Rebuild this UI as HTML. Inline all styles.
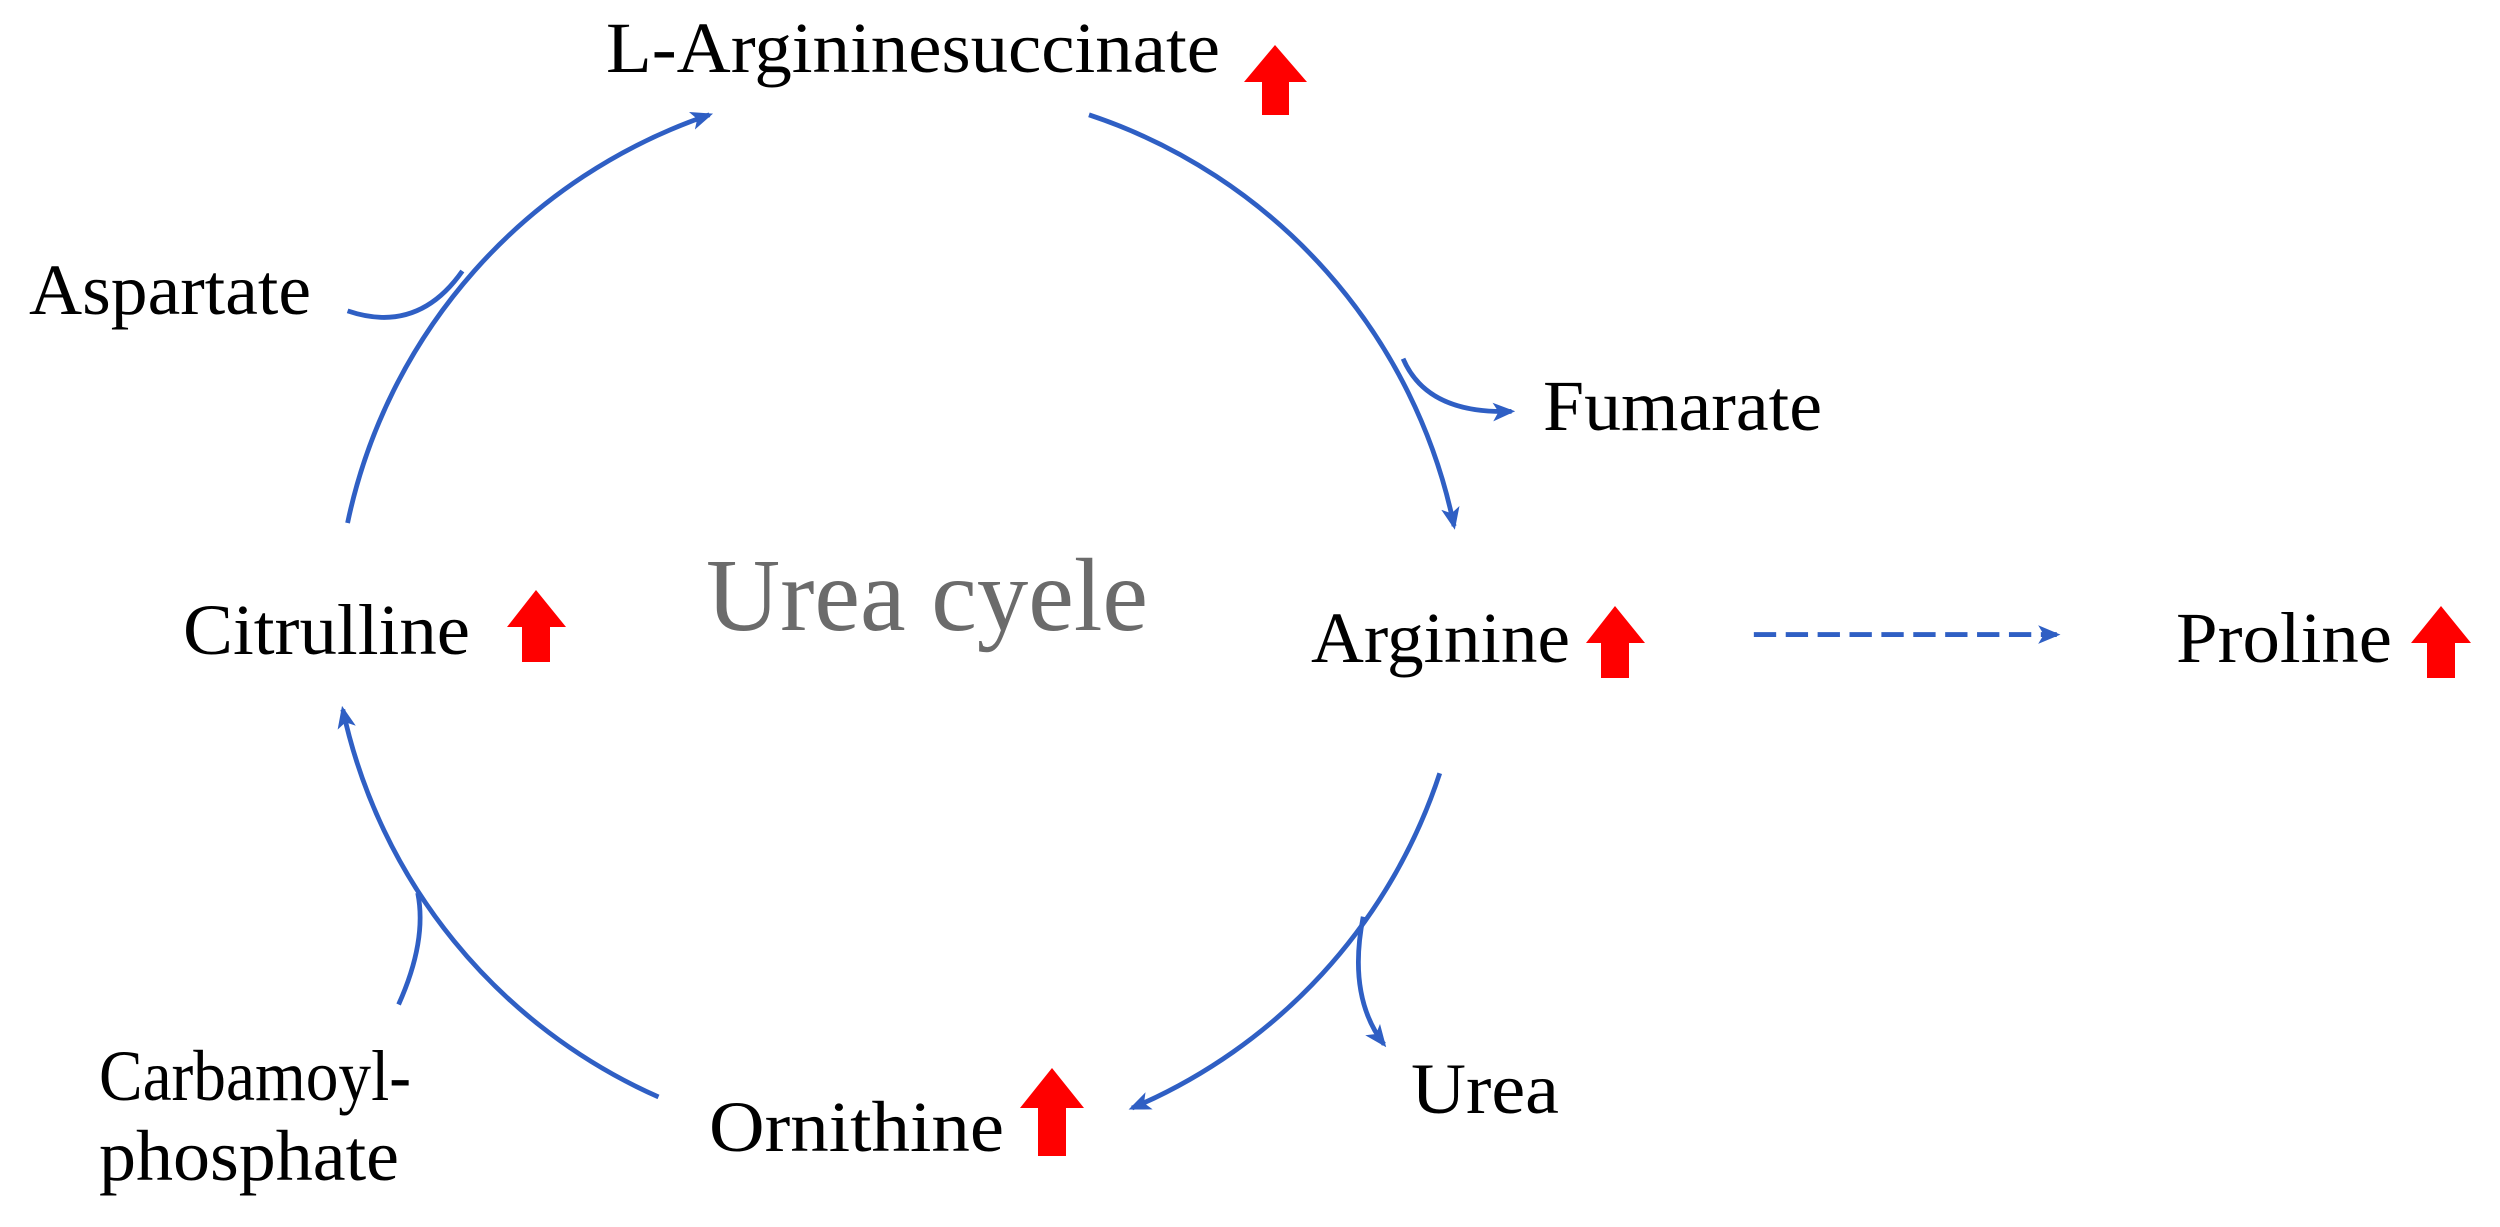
<!DOCTYPE html>
<html><head><meta charset="utf-8"><style>
html,body{margin:0;padding:0;background:#fff;}
svg{display:block;}
text{font-family:"Liberation Serif",serif;fill:#000;}
</style></head><body>
<svg width="2500" height="1227" viewBox="0 0 2500 1227" xmlns="http://www.w3.org/2000/svg">
<defs>
<marker id="a" viewBox="0 0 12 10" refX="10" refY="5" markerWidth="14" markerHeight="12" markerUnits="userSpaceOnUse" orient="auto">
<path d="M0,0 L12,5 L0,10 L3,5 Z" fill="#2f5fc4"/>
</marker>
</defs>
<g transform="scale(1.5944)" fill="none" stroke="#2f5fc4" stroke-width="3">
<path d="M218,328 A345,345 0 0 1 445,72" marker-end="url(#a)"/>
<path d="M218,195 Q262,210 290,170"/>
<path d="M683,72 A345,345 0 0 1 912,330" marker-end="url(#a)"/>
<path d="M880,225 Q895,260 948,258" marker-end="url(#a)"/>
<path d="M903,485 A345,345 0 0 1 710,695" marker-end="url(#a)"/>
<path d="M855,575 Q845,625 868,655" marker-end="url(#a)"/>
<path d="M413,688 A345,345 0 0 1 215,445" marker-end="url(#a)"/>
<path d="M250,630 Q268,590 262,560"/>
<path d="M1100,398 L1290,398" stroke-dasharray="14,6" marker-end="url(#a)"/>
</g>
<g fill="#ff0000">
<polygon points="1275,45 1307,82 1289,82 1289,115 1262,115 1262,82 1244,82"/>
<polygon points="536,590 566,627 550,627 550,662 522,662 522,627 507,627"/>
<polygon points="1615,606 1645,643 1629,643 1629,678 1601,678 1601,643 1586,643"/>
<polygon points="2441,606 2471,643 2455,643 2455,678 2427,678 2427,643 2411,643"/>
<polygon points="1052,1068 1084,1108 1066,1108 1066,1156 1038,1156 1038,1108 1020,1108"/>
</g>
<g font-size="72">
<text x="606" y="72" textLength="614" lengthAdjust="spacingAndGlyphs">L-Argininesuccinate</text>
<text x="29" y="314" textLength="282" lengthAdjust="spacingAndGlyphs">Aspartate</text>
<text x="1543" y="430" textLength="279" lengthAdjust="spacingAndGlyphs">Fumarate</text>
<text x="183" y="654" textLength="287" lengthAdjust="spacingAndGlyphs">Citrulline</text>
<text x="1311" y="662" textLength="259" lengthAdjust="spacingAndGlyphs">Arginine</text>
<text x="2176" y="662" textLength="216" lengthAdjust="spacingAndGlyphs">Proline</text>
<text x="709" y="1151" textLength="295" lengthAdjust="spacingAndGlyphs">Ornithine</text>
<text x="1411" y="1113" textLength="148" lengthAdjust="spacingAndGlyphs">Urea</text>
<text x="99" y="1100" textLength="312" lengthAdjust="spacingAndGlyphs">Carbamoyl-</text>
<text x="99" y="1180" textLength="300" lengthAdjust="spacingAndGlyphs">phosphate</text>
</g>
<text x="706" y="630" font-size="104" style="fill:#6b6b6b" textLength="442" lengthAdjust="spacingAndGlyphs">Urea cyele</text>
</svg>
</body></html>
